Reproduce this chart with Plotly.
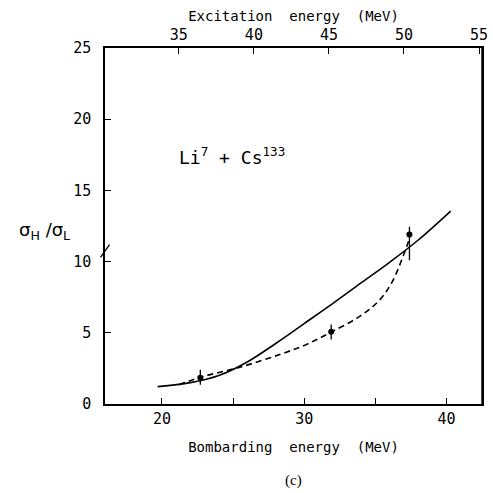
import plotly.graph_objects as go

# Data
solid_x = [19.7, 22.0, 24.0, 26.0, 28.0, 30.0, 32.0, 34.0, 36.0, 38.0, 40.3]
solid_y = [1.22, 1.5, 2.0, 2.95, 4.25, 5.65, 7.05, 8.5, 9.95, 11.5, 13.55]

dash_x = [21.2, 22.8, 25.6, 28.35, 30.2, 31.9, 33.9, 35.3, 36.2, 37.0, 37.4]
dash_y = [1.35, 1.9, 2.62, 3.5, 4.2, 5.05, 6.15, 7.3, 8.6, 10.5, 11.6]

pts_x = [22.7, 31.9, 37.4]
pts_y = [1.85, 5.08, 11.9]
err_up = [0.55, 0.5, 0.55]
err_dn = [0.5, 0.55, 1.8]

x_range = [16, 42.5]
top_range = [30.08, 55.2]
y_range = [0, 25]

bottom_ticks = [20, 30, 40]
bottom_minor = [25, 35]
top_ticks = [35, 40, 45, 50, 55]
y_ticks = [0, 5, 10, 15, 20, 25]

FONT = "DejaVu Sans Mono"

fig = go.Figure()
fig.add_trace(go.Scatter(x=solid_x, y=solid_y, mode="lines",
                         line=dict(color="black", width=1.6, shape="spline", smoothing=1),
                         showlegend=False))
fig.add_trace(go.Scatter(x=dash_x, y=dash_y, mode="lines",
                         line=dict(color="black", width=1.6, dash="6px,4px", shape="spline", smoothing=1),
                         showlegend=False))
fig.add_trace(go.Scatter(x=pts_x, y=pts_y, mode="markers",
                         marker=dict(color="black", size=6),
                         error_y=dict(type="data", array=err_up, arrayminus=err_dn,
                                      color="black", thickness=1.3, width=0),
                         showlegend=False))
# dummy trace for top axis
fig.add_trace(go.Scatter(x=top_range, y=[None, None], xaxis="x2", mode="lines",
                         showlegend=False, hoverinfo="skip"))

axis_common = dict(showgrid=False, zeroline=False, showline=True, linecolor="black",
                   linewidth=1.5, ticks="inside", ticklen=6, tickwidth=1.3,
                   tickcolor="black", tickfont=dict(family=FONT, size=15, color="black"))

fig.update_layout(
    width=493, height=493,
    margin=dict(l=105, r=5, t=48, b=89),
    paper_bgcolor="white", plot_bgcolor="white",
    xaxis=dict(range=x_range, tickvals=bottom_ticks,
               minor=dict(tickvals=bottom_minor, ticks="inside", ticklen=6,
                          tickwidth=1.3, tickcolor="black"),
               **axis_common,
               title=dict(text="Bombarding  energy  (MeV)", standoff=15,
                          font=dict(family=FONT, size=14, color="black"))),
    xaxis2=dict(range=top_range, overlaying="x", side="top", tickvals=top_ticks,
                **axis_common,
                title=dict(text="Excitation  energy  (MeV)", standoff=1,
                           font=dict(family=FONT, size=14, color="black"))),
    yaxis=dict(range=y_range, tickvals=y_ticks, mirror=True, ticklabelstandoff=9,
               **axis_common),
)

fig.add_annotation(text="Li<sup>7</sup> + Cs<sup>133</sup>", xref="paper", yref="y",
                   x=0.337, y=17.4, showarrow=False, xanchor="center",
                   font=dict(family=FONT, size=18, color="black"))
fig.add_annotation(text="σ<sub>H</sub> /σ<sub>L</sub>", xref="paper", yref="paper",
                   x=-0.16, y=0.485, showarrow=False, xanchor="center",
                   font=dict(family="DejaVu Sans", size=18, color="black"))
fig.add_annotation(text="(c)", xref="paper", yref="paper",
                   x=0.5, y=-0.215, showarrow=False, yanchor="middle",
                   font=dict(family="Liberation Serif", size=15, color="black"))
# axis break mark
fig.add_shape(type="line", xref="paper", yref="y", x0=-0.012, x1=0.012, y0=10.3, y1=11.2,
              line=dict(color="black", width=1.3))
# right border
fig.add_shape(type="line", xref="paper", yref="paper", x0=1, x1=1, y0=0, y1=1,
              line=dict(color="black", width=1.5))

fig.write_html("out.html")
